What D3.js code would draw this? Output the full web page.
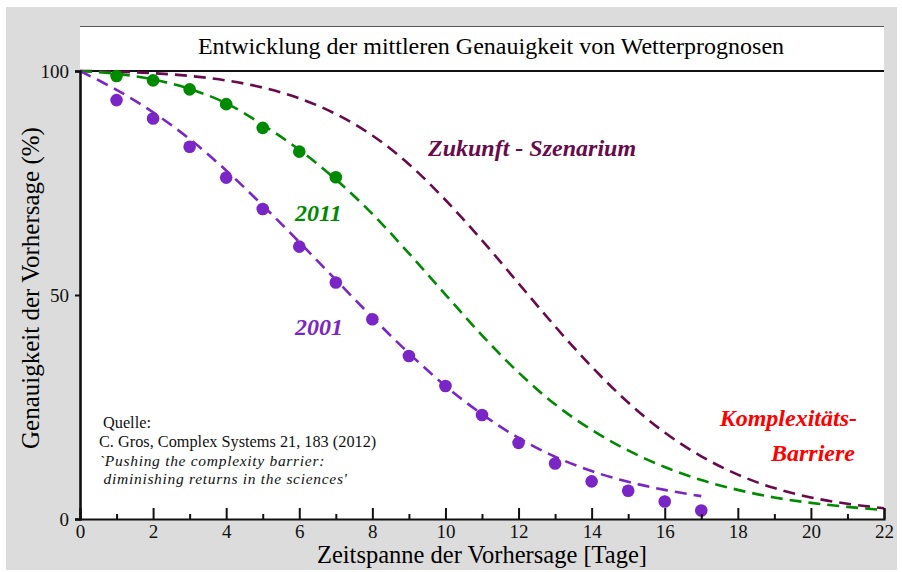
<!DOCTYPE html>
<html>
<head>
<meta charset="utf-8">
<script src="https://cdn.jsdelivr.net/npm/d3@7"></script>
<style>
body { margin: 0; background: #ffffff; }
text { font-family: "Liberation Serif", "Times New Roman", serif; }
</style>
</head>
<body>
<script>
// chart data
var days = [1, 2, 3, 4, 5, 6, 7, 8, 9, 10, 11, 12, 13, 14, 15, 16, 17];
var acc2001 = [93.5, 89.4, 83.1, 76.2, 69.2, 60.8, 52.8, 44.6, 36.4, 29.7, 23.2, 17.0, 12.4, 8.4, 6.3, 3.9, 1.9];
var days2011 = [1, 2, 3, 4, 5, 6, 7];
var acc2011 = [98.9, 97.9, 95.9, 92.6, 87.3, 82.0, 76.3];

// dashed fit curves (read at whole days)
var fitDays2001 = [0, 1, 2, 3, 4, 5, 6, 7, 8, 9, 10, 11, 12, 13, 14, 15, 16, 17];
var fit2001 = [100, 95.8, 90.8, 84.8, 77.8, 70.0, 61.8, 53.4, 45.0, 37.0, 29.7, 23.4, 18.1, 13.9, 10.7, 8.3, 6.5, 5.1];
var fitDays = [0, 1, 2, 3, 4, 5, 6, 7, 8, 9, 10, 11, 12, 13, 14, 15, 16, 17, 18, 19, 20, 21, 22];
var fit2011 = [100, 99.4, 98.1, 96.0, 92.8, 88.0, 82.4, 75.8, 68.1, 59.3, 50.1, 41.0, 32.7, 25.6, 19.9, 15.3, 11.6, 8.7, 6.5, 4.8, 3.6, 2.7, 2.0];
var fitFuture = [100, 99.85, 99.5, 98.9, 97.9, 96.3, 93.9, 90.4, 85.6, 79.2, 71.2, 62.2, 52.6, 43.0, 34.0, 26.0, 19.3, 14.0, 9.9, 6.9, 4.8, 3.4, 2.4];

var xMajor = [0, 2, 4, 6, 8, 10, 12, 14, 16, 18, 20, 22];
var xMinor = [1, 3, 5, 7, 9, 11, 13, 15, 17, 19, 21];
var yTicks = [0, 50, 100];

var sourceLines = ["Quelle:", "C. Gros, Complex Systems 21, 183 (2012)",
	"`Pushing the complexity barrier:", " diminishing returns in the sciences'"];

//Width and height
var width = 902;
var height = 572;

var col2001 = "#7a26c6";
var col2011 = "#008a00";
var colFuture = "#680a4c";

var svg = d3.select("body")
	.append("svg")
	.attr("width", width)
	.attr("height", height);

// gray frame
svg.append("rect")
	.attr("x", 6).attr("y", 7)
	.attr("width", 891).attr("height", 563)
	.attr("fill", "#dcdcdc");

var x = d3.scaleLinear().domain([0, 22]).range([80, 884]);
var y = d3.scaleLinear().domain([0, 100]).range([519, 71]);

// plot area (white), title band on top
svg.append("rect")
	.attr("x", 80).attr("y", 26)
	.attr("width", 804).attr("height", 493)
	.attr("fill", "#ffffff");
svg.append("line")
	.attr("x1", 80).attr("x2", 884)
	.attr("y1", 26.5).attr("y2", 26.5)
	.attr("stroke", "#555").attr("stroke-width", 1);
svg.append("line")
	.attr("x1", x(0)).attr("x2", x(22))
	.attr("y1", y(100)).attr("y2", y(100))
	.attr("stroke", "#111").attr("stroke-width", 2.2);

svg.append("text")
	.attr("x", 491).attr("y", 54)
	.attr("text-anchor", "middle")
	.attr("font-size", 24)
	.text("Entwicklung der mittleren Genauigkeit von Wetterprognosen");

// fit curves
var line = d3.line()
	.x(function(d){ return x(d[0]); })
	.y(function(d){ return y(d[1]); })
	.curve(d3.curveCatmullRom);

function drawFit(xs, ys, color){
	svg.append("path")
		.datum(d3.zip(xs, ys))
		.attr("d", line)
		.attr("fill", "none")
		.attr("stroke", color)
		.attr("stroke-width", 2.6)
		.attr("stroke-dasharray", "12,7");
}
drawFit(fitDays, fitFuture, colFuture);
drawFit(fitDays, fit2011, col2011);
drawFit(fitDays2001, fit2001, col2001);

// measured points
function drawDots(xs, ys, color){
	svg.append("g")
		.selectAll("circle")
		.data(d3.zip(xs, ys))
		.enter()
		.append("circle")
		.attr("cx", function(d){ return x(d[0]); })
		.attr("cy", function(d){ return y(d[1]); })
		.attr("r", 6.3)
		.attr("fill", color);
}
drawDots(days2011, acc2011, col2011);
drawDots(days, acc2001, col2001);

// axes
var gx = svg.append("g").attr("transform", "translate(0," + y(0) + ")");
gx.call(d3.axisBottom(x).tickValues(xMajor).tickSize(-11).tickPadding(6).tickFormat(d3.format("d")));
var gxm = svg.append("g").attr("transform", "translate(0," + y(0) + ")");
gxm.call(d3.axisBottom(x).tickValues(xMinor).tickSize(-5).tickFormat(""));
gxm.select(".domain").remove();

var gy = svg.append("g").attr("transform", "translate(" + x(0) + ",0)");
gy.call(d3.axisLeft(y).tickValues(yTicks).tickSize(5).tickPadding(6));

svg.selectAll(".tick line").attr("stroke", "#111").attr("stroke-width", 2);
svg.selectAll(".tick text")
	.attr("font-family", "Liberation Serif, Times New Roman, serif")
	.attr("font-size", 19)
	.attr("fill", "#111");
gx.select(".domain").attr("stroke", "#111").attr("stroke-width", 2.2);
gy.select(".domain").attr("stroke", "#111").attr("stroke-width", 2.6);

// axis titles
svg.append("text")
	.attr("x", 482).attr("y", 563)
	.attr("text-anchor", "middle")
	.attr("font-size", 24.5)
	.text("Zeitspanne der Vorhersage [Tage]");
svg.append("text")
	.attr("transform", "translate(39,288) rotate(-90)")
	.attr("text-anchor", "middle")
	.attr("font-size", 25)
	.text("Genauigkeit der Vorhersage (%)");

// labels on the curves
function label(tx, ty, txt, color, anchor){
	svg.append("text")
		.attr("x", tx).attr("y", ty)
		.attr("text-anchor", anchor || "start")
		.attr("font-size", 24)
		.attr("font-weight", "bold")
		.attr("font-style", "italic")
		.attr("fill", color)
		.text(txt);
}
label(428, 156, "Zukunft - Szenarium", colFuture);
label(295, 221, "2011", col2011);
label(295, 335, "2001", col2001);
label(857, 426, "Komplexitäts-", "#ff0000", "end");
label(855, 461, "Barriere", "#ff0000", "end");

// source note, one text per line
svg.append("g")
	.selectAll("text")
	.data(sourceLines)
	.enter()
	.append("text")
	.attr("x", function(d, i){ return i === 0 ? 103 : 99; })
	.attr("y", function(d, i){ return [428, 447, 466, 484][i]; })
	.attr("font-size", function(d, i){ return i > 1 ? 15.5 : 16.3; })
	.attr("letter-spacing", function(d, i){ return i > 1 ? 0.7 : 0; })
	.attr("font-style", function(d, i){ return i > 1 ? "italic" : "normal"; })
	.attr("fill", "#111")
	.attr("xml:space", "preserve")
	.text(function(d){ return d; });
</script>
</body>
</html>
